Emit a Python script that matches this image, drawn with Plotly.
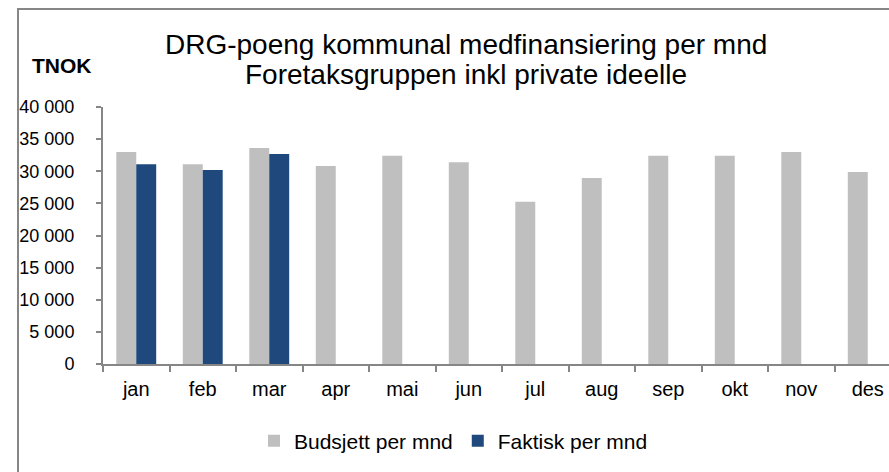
import plotly.graph_objects as go

months = ["jan", "feb", "mar", "apr", "mai", "jun", "jul", "aug", "sep", "okt", "nov", "des"]
budsjett = [33000, 31100, 33600, 30800, 32400, 31400, 25250, 28950, 32400, 32400, 33000, 29900]
faktisk = [31100, 30200, 32700, None, None, None, None, None, None, None, None, None]
y_ticks = [0, 5000, 10000, 15000, 20000, 25000, 30000, 35000, 40000]

title_line1 = "DRG-poeng kommunal medfinansiering per mnd"
title_line2 = "Foretaksgruppen inkl private ideelle"
unit_label = "TNOK"

FONT = "Liberation Sans, Arial, sans-serif"
W, H = 889, 472
L, T, B = 103, 107, 108
R = 0
plot_w = W - L - R
plot_h = H - T - B

def px_to_paper_x(px):
    return (px - L) / plot_w

def px_to_paper_y(py):
    return (H - B - py) / plot_h

fig = go.Figure()
fig.add_trace(go.Bar(x=months, y=budsjett, name="Budsjett per mnd",
                     marker=dict(color="#BFBFBF", line=dict(width=0))))
fig.add_trace(go.Bar(x=months, y=faktisk, name="Faktisk per mnd",
                     marker=dict(color="#1F497D", line=dict(width=0))))

cat_px = 66.5
x_end = -0.5 + plot_w / cat_px

border = dict(color="#868686", width=2)

fig.update_layout(
    width=W, height=H,
    margin=dict(l=L, r=R, t=T, b=B, pad=0),
    paper_bgcolor="white", plot_bgcolor="white",
    barmode="group", bargap=0.4, bargroupgap=0.0,
    separators=", ",
    font=dict(family=FONT, size=20, color="black"),
    showlegend=True,
    legend=dict(orientation="h", x=px_to_paper_x(254), xanchor="left",
                y=px_to_paper_y(441), yanchor="middle",
                font=dict(family=FONT, size=21, color="black"),
                bgcolor="rgba(0,0,0,0)", itemsizing="constant"),
    xaxis=dict(type="category", range=[-0.5, x_end], showgrid=False,
               showline=True, linecolor="#868686", linewidth=2,
               ticks="outside", tickson="boundaries", ticklen=6,
               tickcolor="#868686", tickwidth=2,
               tickfont=dict(family=FONT, size=20, color="black"),
               ticklabelstandoff=6, fixedrange=True),
    yaxis=dict(range=[0, 40000], tickvals=y_ticks, tickformat=",d",
               showgrid=False, zeroline=False,
               showline=True, linecolor="#868686", linewidth=2,
               ticks="outside", ticklen=5, tickcolor="#868686", tickwidth=2,
               tickfont=dict(family=FONT, size=18, color="black"),
               ticklabelstandoff=18, fixedrange=True),
    shapes=[
        dict(type="line", xref="paper", yref="paper",
             x0=px_to_paper_x(17), x1=1.0,
             y0=px_to_paper_y(9), y1=px_to_paper_y(9),
             line=border, layer="below"),
        dict(type="line", xref="paper", yref="paper",
             x0=px_to_paper_x(18), x1=px_to_paper_x(18),
             y0=px_to_paper_y(8), y1=px_to_paper_y(H), line=border, layer="below"),
    ],
    annotations=[
        dict(text=title_line1, xref="paper", yref="paper",
             x=px_to_paper_x(466), y=px_to_paper_y(45),
             xanchor="center", yanchor="middle", showarrow=False,
             font=dict(family=FONT, size=28, color="black")),
        dict(text=title_line2, xref="paper", yref="paper",
             x=px_to_paper_x(466), y=px_to_paper_y(74),
             xanchor="center", yanchor="middle", showarrow=False,
             font=dict(family=FONT, size=28, color="black")),
        dict(text="<b>" + unit_label + "</b>", xref="paper", yref="paper",
             x=px_to_paper_x(62), y=px_to_paper_y(66),
             xanchor="center", yanchor="middle", showarrow=False,
             font=dict(family=FONT, size=21, color="black")),
    ],
)

fig.write_html(
    "out.html", config={"displayModeBar": False, "staticPlot": True},
    post_script=("document.body.style.margin='0';"
                 "document.body.style.overflow='hidden';"
                 "document.documentElement.style.overflow='hidden';"))
